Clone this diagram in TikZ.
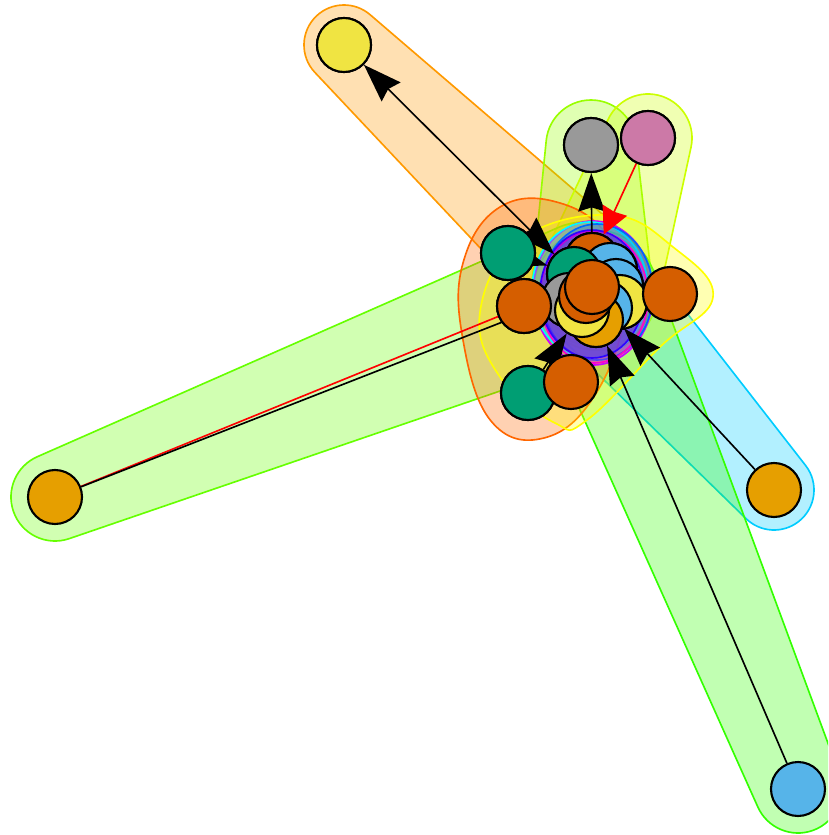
\documentclass[tikz,border=0pt]{standalone}
\usetikzlibrary{arrows.meta,calc}
\definecolor{hor}{HTML}{FF9900}
\definecolor{hgr}{HTML}{99FF00}
\definecolor{hpk}{HTML}{CCFF00}
\definecolor{hlf}{HTML}{66FF00}
\definecolor{hcy}{HTML}{00CCFF}
\definecolor{hbg}{HTML}{33FF00}
\definecolor{hsa}{HTML}{FF6600}
\definecolor{hye}{HTML}{FFFF00}
\definecolor{hpu}{HTML}{CC00FF}
\definecolor{hcn}{HTML}{00FFFF}
\definecolor{hbu}{HTML}{0066FF}
\definecolor{hmg}{HTML}{FF00CC}
\definecolor{hvi}{HTML}{3300FF}
\definecolor{cye}{HTML}{F0E442}
\definecolor{cgy}{HTML}{999999}
\definecolor{cpk}{HTML}{CC79A7}
\definecolor{cgn}{HTML}{009E73}
\definecolor{cvm}{HTML}{D55E00}
\definecolor{cor}{HTML}{E69F00}
\definecolor{cbl}{HTML}{56B4E9}
\tikzset{
  v/.style={circle, draw=black, line width=1.8pt, fill=#1, minimum size=1.62cm, inner sep=0pt},
  hull/.style={draw=#1, fill=#1, fill opacity=0.3, line width=1.4pt},
  edge/.style={line width=1.4pt, draw=black},
  arr/.style={-{Stealth[length=1.15cm,width=0.8cm,inset=0.12cm]}},
  barr/.style={{Stealth[length=1.15cm,width=0.8cm,inset=0.12cm]}-{Stealth[length=1.15cm,width=0.8cm,inset=0.12cm]}}
}
\newcommand{\taper}[7]{%
  \pgfmathsetmacro\hA{atan2((#2)-(#5),(#4)-(#1))}%
  \pgfmathsetmacro\hD{100*veclen(((#4)-(#1))/100,((#5)-(#2))/100)}%
  \pgfmathsetmacro\hP{acos(((#3)-(#6))/\hD)}%
  \draw[hull=#7] ($(#1,-#2)+(\hA+\hP:#3)$) -- ($(#4,-#5)+(\hA+\hP:#6)$)
    arc[start angle=\hA+\hP, end angle=\hA-\hP, radius=#6*0.03cm]
    -- ($(#1,-#2)+(\hA-\hP:#3)$)
    arc[start angle=\hA-\hP, end angle=\hA+\hP-360, radius=#3*0.03cm] -- cycle;}
\begin{document}
\begin{tikzpicture}[x=0.03cm,y=0.03cm]
\useasboundingbox (0,0) rectangle (828,-835);
\clip (0,0) rectangle (828,-835);
% groups
\taper{344}{45}{40}{590}{280}{58}{hor}
\taper{591}{145}{45}{592}{285}{60}{hgr}
\taper{648}{138}{44}{597}{288}{62}{hpk}
\taper{55}{497}{44}{585}{290}{68}{hlf}
\taper{774}{490}{40}{597}{292}{58}{hcy}
\taper{798}{789}{44}{595}{292}{62}{hbg}
\draw[hull=hsa] plot[smooth cycle, tension=0.7] coordinates {(500,-207) (560,-203) (610,-240) (625,-310) (595,-395) (544,-438) (491,-421) (463,-340) (463,-263)};
\draw[hull=hye] plot[smooth cycle, tension=0.7] coordinates {(520,-240) (610,-215) (673,-247) (713,-297) (660,-347) (587,-420) (555,-423) (500,-377) (480,-312)};
\draw[hull=hpu] (593,-293) ellipse [x radius=60, y radius=72];
\draw[hull=hcn] (590,-290) ellipse [x radius=58, y radius=68];
\draw[hull=hbu] (597,-292) ellipse [x radius=56, y radius=68];
\draw[hull=hmg] (594,-297) ellipse [x radius=54, y radius=66];
\draw[hull=hvi] (592,-294) ellipse [x radius=52, y radius=64];
% vertex positions
\path
  (344,-45)  coordinate (pyTL)
  (591,-145) coordinate (pgy)
  (648,-138) coordinate (ppk)
  (508,-253) coordinate (pg1)
  (524,-306) coordinate (pvL)
  (528,-393) coordinate (pg2)
  (571,-382) coordinate (pvB)
  (670,-294) coordinate (pvR)
  (55,-497)  coordinate (plo)
  (774,-490) coordinate (pro)
  (798,-789) coordinate (pbl);
\node[v=cye] (yTL) at (pyTL) {};
\node[v=cgy] (gy) at (pgy) {};
\node[v=cpk] (pk) at (ppk) {};
\node[v=cor] (lo) at (plo) {};
\node[v=cor] (ro) at (pro) {};
\node[v=cbl] (bl) at (pbl) {};
\node[v=cgn] (g1) at (pg1) {};
\node[v=cgn] (g2) at (pg2) {};
% central nodes (edge targets)
\path
  node[v=cvm] (cA) at (592,-260) {}
  node[v=cbl] (cB) at (610,-270) {}
  node[v=cgn] (cC) at (574,-274) {}
  node[v=cbl] (cD) at (616,-286) {}
  node[v=cgy] (cE) at (569,-300) {}
  node[v=cye] (cF) at (620,-302) {}
  node[v=cbl] (cG) at (605,-308) {}
  node[v=cor] (cH) at (596,-320) {}
  node[v=cye] (cI) at (582,-310) {}
  node[v=cvm] (cJ) at (586,-296) {}
  node[v=cvm] (vL) at (pvL) {}
  node[v=cvm] (c0) at (592,-287) {};
% edges
\draw[edge, barr] (yTL) -- (cC);
\draw[edge, arr] (g1) -- (cC);
\draw[edge, arr] (cA) -- (gy);
\draw[edge, red, -{Stealth[length=0.8cm,width=0.8cm,inset=0.05cm]}] (pk) -- (cA);
\draw[line width=1.4pt, red] (lo) -- (vL);
\draw[edge] (lo) -- (c0);
\draw[edge, arr] (ro) -- (cG);
\draw[edge, arr] (bl) -- (cH);
\draw[edge, arr] (g2) -- (cI);
% vertices on top
\node[v=cgn] at (pg1) {};
\node[v=cgn] at (pg2) {};
\node[v=cvm] at (cA) {};
\node[v=cbl] at (cB) {};
\node[v=cgn] at (cC) {};
\node[v=cbl] at (cD) {};
\node[v=cgy] at (cE) {};
\node[v=cye] at (cF) {};
\node[v=cbl] at (cG) {};
\node[v=cor] at (cH) {};
\node[v=cye] at (cI) {};
\node[v=cvm] at (cJ) {};
\node[v=cvm] at (c0) {};
\node[v=cvm] at (pvL) {};
\node[v=cvm] (vR) at (pvR) {};
\node[v=cvm] (vB) at (pvB) {};
\node[v=cye] at (pyTL) {};
\node[v=cgy] at (pgy) {};
\node[v=cpk] at (ppk) {};
\end{tikzpicture}
\end{document}
